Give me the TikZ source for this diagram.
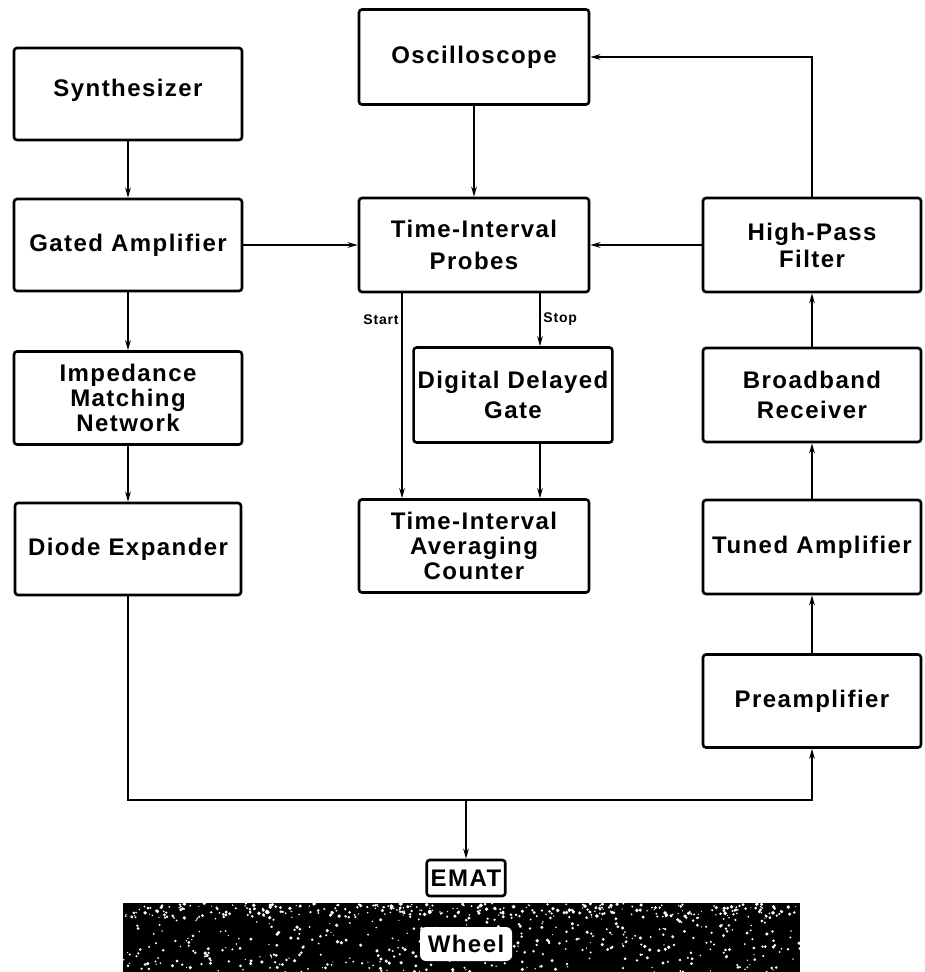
\documentclass[tikz,border=0pt]{standalone}
\usepackage{fontspec}
\setmainfont{Liberation Sans}[LetterSpace=6]
\usetikzlibrary{arrows.meta}
\usetikzlibrary{calc}

\begin{document}
\begin{tikzpicture}
[x=0.5pt,y=-0.5pt,
 boxdecorate/.style={shape=rectangle,draw,line width=1.3pt,rounded corners=1.5pt,align=center,inner sep=2pt},
 linedecorate/.style={line width=1.1pt,-{Stealth[length=5pt,width=2.8pt]}},
 tagdecorate/.style={font=\fontsize{7}{8}\selectfont\bfseries,inner sep=1.5pt}]
\useasboundingbox (0,0) rectangle (924,972);
%% blocks
\foreach \nodename/\x/\y/\w/\h/\lead/\txt in {
  synth/128/94/228/92/15/{\raisebox{6.5pt}{Synthesizer}},
  osc/474/57/230/95/15/{Oscilloscope},
  gated/128/245/228/92/15/{Gated Amplifier},
  tip/474/245/230/94/16/{Time-Interval\\Probes},
  hpf/812/245/218/94/13.5/{High-Pass\\Filter},
  imp/128/398/228/93/12.5/{Impedance\\Matching\\Network},
  ddg/513/395/153/95/15/{Digital Delayed\\Gate},
  bbr/812/395/218/94/15/{Broadband\\Receiver},
  diode/128/549/226/92/15/{Diode Expander},
  tiac/474/546/230/93/12.5/{Time-Interval\\Averaging\\Counter},
  tuned/812/547/218/94/15/{Tuned Amplifier},
  pre/812/701/218/93/15/{Preamplifier},
  emat/466/878/76/36/14/{EMAT}}
{
  \node (\nodename) at (\x,\y) [boxdecorate,minimum width=\w*0.5pt,minimum height=\h*0.5pt,font=\fontsize{12}{\lead}\selectfont\bfseries] {\txt};
}
%% connections
\path
\foreach \startnode/\endnode in {synth/gated, gated/imp, imp/diode, osc/tip,
  gated/tip, hpf/tip, pre/tuned, tuned/bbr, bbr/hpf}
{
  (\startnode) edge[linedecorate] (\endnode)
};
\draw[linedecorate] (hpf.north) |- (osc.east);
\coordinate (startpt) at ([xshift=-36pt]tip.south);
\coordinate (stoppt) at ([xshift=33pt]tip.south);
\draw[linedecorate] (startpt) -- (startpt |- tiac.north);
\draw[linedecorate] (stoppt) -- (stoppt |- ddg.north);
\draw[linedecorate] (ddg.south -| stoppt) -- (tiac.north -| stoppt);
\node[tagdecorate,anchor=east] (startlbl) at ([yshift=-13pt]startpt) {Start};
\node[tagdecorate,anchor=west] (stoplbl) at ([yshift=-13pt]stoppt) {Stop};
\coordinate (bus) at (466,800);
\draw[line width=1.1pt] (diode.south) |- (bus);
\draw[linedecorate] (bus) -| (pre.south);
\draw[linedecorate] (bus) -- (emat.north);
%% wheel
\fill (123,903) rectangle (800,972);
\pgfmathsetseed{7}
\foreach \i in {1,...,500}
{
  \fill[white] (123+677*rnd,903+69*rnd) circle[radius=0.3pt+0.6pt*rnd];
}
\foreach \i in {1,...,250}
{
  \fill[white] (123+677*rnd,904+14*rnd) circle[radius=0.3pt+0.7pt*rnd];
}
\node (wheel) at (466,944) [fill=white,rounded corners=3pt,font=\fontsize{12}{14}\selectfont\bfseries,minimum width=46pt,minimum height=17pt,inner sep=1pt] {Wheel};
\end{tikzpicture}
\end{document}
